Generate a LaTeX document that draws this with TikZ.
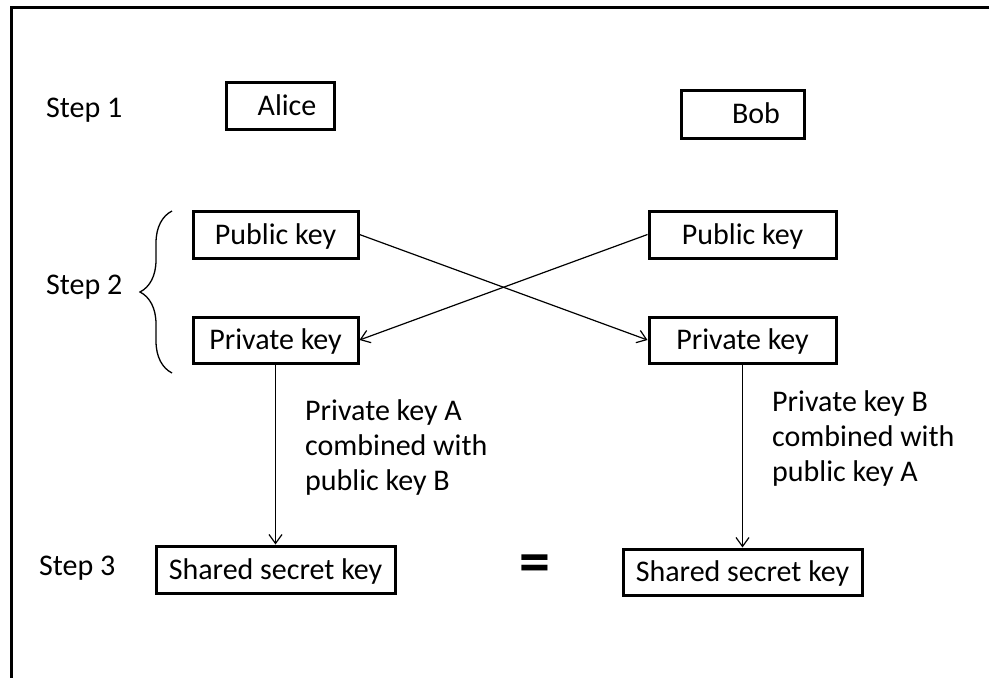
\documentclass[tikz,border=0pt]{standalone}
\usepackage{fontspec}
\setmainfont{Carlito}
\usetikzlibrary{arrows.meta,decorations.pathreplacing}

\begin{document}
\begin{tikzpicture}[x=1pt,y=-1pt,
  every node/.style={font=\fontsize{30}{35}\selectfont},
  keybox/.style={draw, line width=3pt, inner sep=0pt, text height=22pt, text depth=3pt},
  flow/.style={line width=1.2pt, -{Straight Barb[length=9pt,width=13pt,line width=1.2pt]}},
  steplabel/.style={anchor=base west, inner sep=0pt},
  note/.style={anchor=north west, align=left, inner sep=0pt}
]
\useasboundingbox (0,0) rectangle (990,678);

% frame on the top and left edges
\draw[line width=3pt] (989,7.5) -- (11,7.5) -- (11,678);

% step labels
\node[steplabel] (s1) at (46,117) {Step 1};
\node[steplabel] (s2) at (46,294) {Step 2};
\node[steplabel] (s3) at (39,575) {Step 3};

% parties
\node[keybox, minimum width=108, minimum height=47] (alice) at (280,105.5) {\hspace*{14pt}Alice};
\node[keybox, minimum width=123, minimum height=48] (bob) at (742.5,114) {\hspace*{27pt}Bob};

% key pairs
\node[keybox, minimum width=165, minimum height=47] (pubL) at (275.5,234.5) {Public key};
\node[keybox, minimum width=165, minimum height=46] (privL) at (275.5,340) {Private key};
\node[keybox, minimum width=187, minimum height=47] (pubR) at (742.5,234.5) {Public key};
\node[keybox, minimum width=187, minimum height=46] (privR) at (742.5,340) {Private key};

% shared secrets
\node[keybox, minimum width=239, minimum height=47] (shL) at (275.5,569.5) {Shared secret key};
\node[keybox, minimum width=239, minimum height=46] (shR) at (742.5,572) {Shared secret key};

\node[font=\fontsize{62}{62}\selectfont\bfseries, inner sep=0pt] (eq) at (534.5,569) {=};

% brace grouping step 2
\draw[line width=1.3pt, decorate, decoration={brace, amplitude=32pt}]
  (172,373) -- (172,211);

% exchange of public keys
\draw[flow] (pubL.east) -- (privR.west);
\draw[flow] (pubR.west) -- (privL.east);

% combining keys
\draw[flow] (privL.south) -- (shL.north);
\draw[flow] (privR.south) -- (shR.north);

\node[note] (nL) at (305,399) {Private key A\\combined with\\public key B};
\node[note] (nR) at (772,390) {Private key B\\combined with\\public key A};
\end{tikzpicture}
\end{document}
